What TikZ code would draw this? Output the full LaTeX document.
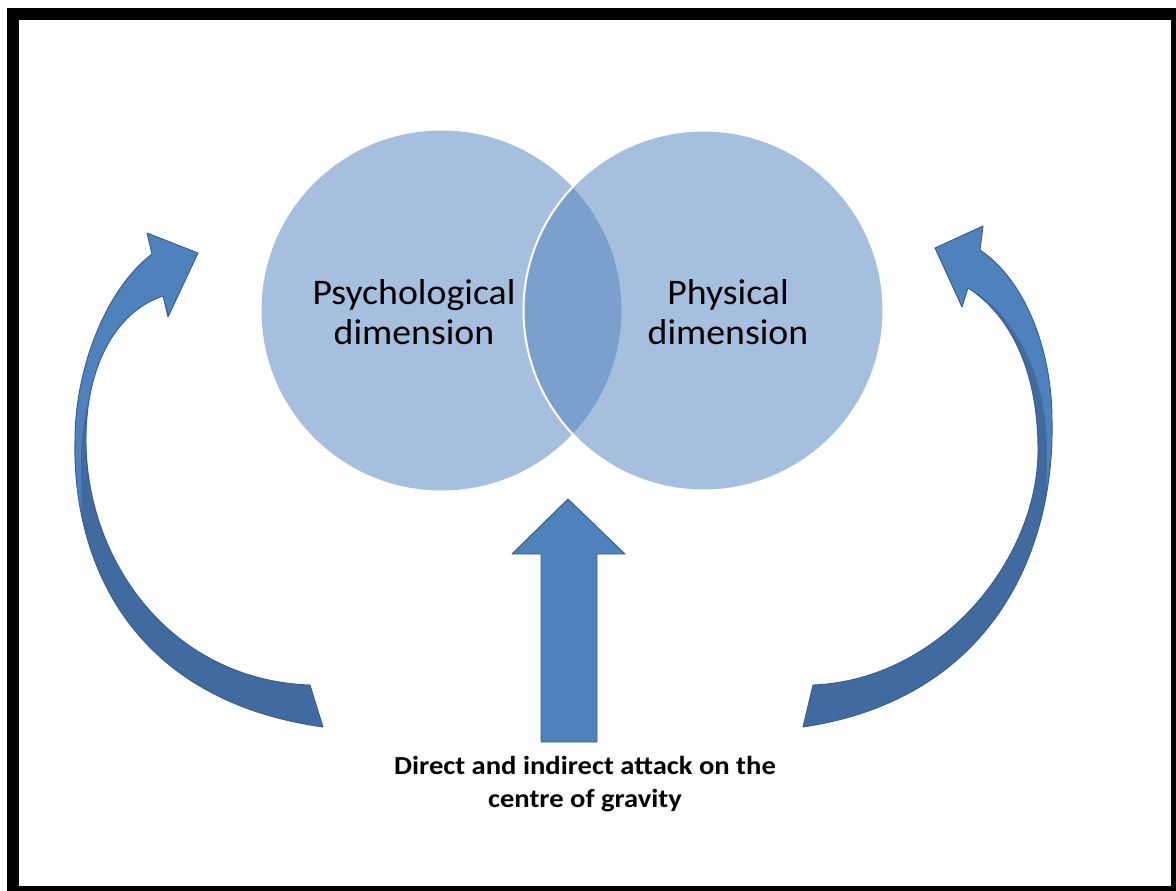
\documentclass[tikz,border=0pt]{standalone}
\usepackage{fontspec}
\setmainfont{Carlito}
\definecolor{circ}{RGB}{167,191,222}
\definecolor{lens}{RGB}{124,160,205}
\definecolor{arr}{RGB}{79,129,189}
\definecolor{darr}{RGB}{65,106,158}
\definecolor{arrline}{RGB}{56,93,138}
\tikzset{
  venn/.style={circle, minimum size=360pt, inner sep=0pt, fill=circ},
  vtext/.style={align=center, font=\fontsize{36}{40}\selectfont, xscale=1.05, transform shape},
  outl/.style={draw=arrline, line width=0.9pt, line join=round},
}
\newcommand\larrowpath{(323,727) -- (310,685)
  .. controls (170,680) and (86,560) .. (86,440)
  .. controls (86,360) and (120,310) .. (163,296)
  -- (168,317) -- (198,253) -- (147,233) -- (152,254)
  .. controls (105,290) and (75,370) .. (75,440)
  .. controls (72,560) and (130,700) .. (323,727) -- cycle}
\newcommand\rarrowpath{(803,727) -- (813,685)
  .. controls (940,680) and (1038,560) .. (1038,450)
  .. controls (1038,370) and (1010,315) .. (968,288)
  -- (962,307) -- (935,248) -- (983,226) -- (980,250)
  .. controls (1025,280) and (1052,350) .. (1052,420)
  .. controls (1055,560) and (985,700) .. (803,727) -- cycle}
\begin{document}
\begin{tikzpicture}[x=1pt,y=-1pt]
\useasboundingbox (0,0) rectangle (1176,891);
\fill[white] (0,0) rectangle (1176,891);
\fill[black] (7,8) rectangle (1176,891);
\fill[white] (19,20) rectangle (1171,886);

% Venn circles
\node[venn] (L) at (441.5,310.5) {};
\node[venn] (R) at (703.5,310.5) {};
\begin{scope}
  \clip (L.center) circle[radius=180pt];
  \fill[lens] (R.center) circle[radius=180pt];
\end{scope}
\draw[white, line width=2pt] (R.center) circle[radius=180pt];

\node[vtext] (lt) at (414,312) {Psychological\\dimension};
\node[vtext] (rt) at (728,312) {Physical\\dimension};

% central up arrow
\draw[fill=arr, outl] (541,742) -- (541,554) -- (512,554) -- (568,499) -- (625,554) -- (597,554) -- (597,742) -- cycle;

\node[align=center, font=\bfseries\fontsize{26}{33}\selectfont, xscale=1.1, transform shape] (lab) at (585,784) {Direct and indirect attack on the\\centre of gravity};

% left curved arrow
\fill[darr] \larrowpath;
\begin{scope}
  \clip \larrowpath;
  \fill[arr] (163,296) .. controls (120,315) and (81,380) .. (81,460)
    .. controls (81,490) and (82,515) .. (82,535)
    -- (40,545) -- (40,200) -- (250,200) -- (250,330) -- (175,330) -- cycle;
\end{scope}
\draw[outl] \larrowpath;

% right curved arrow
\fill[darr] \rarrowpath;
\begin{scope}
  \clip \rarrowpath;
  \fill[arr] (968,288) .. controls (1010,310) and (1047,370) .. (1047,450)
    .. controls (1047,490) and (1045,515) .. (1043,535)
    -- (1090,545) -- (1090,200) -- (900,200) -- (900,330) -- (960,330) -- cycle;
\end{scope}
\draw[outl] \rarrowpath;
\end{tikzpicture}
\end{document}
